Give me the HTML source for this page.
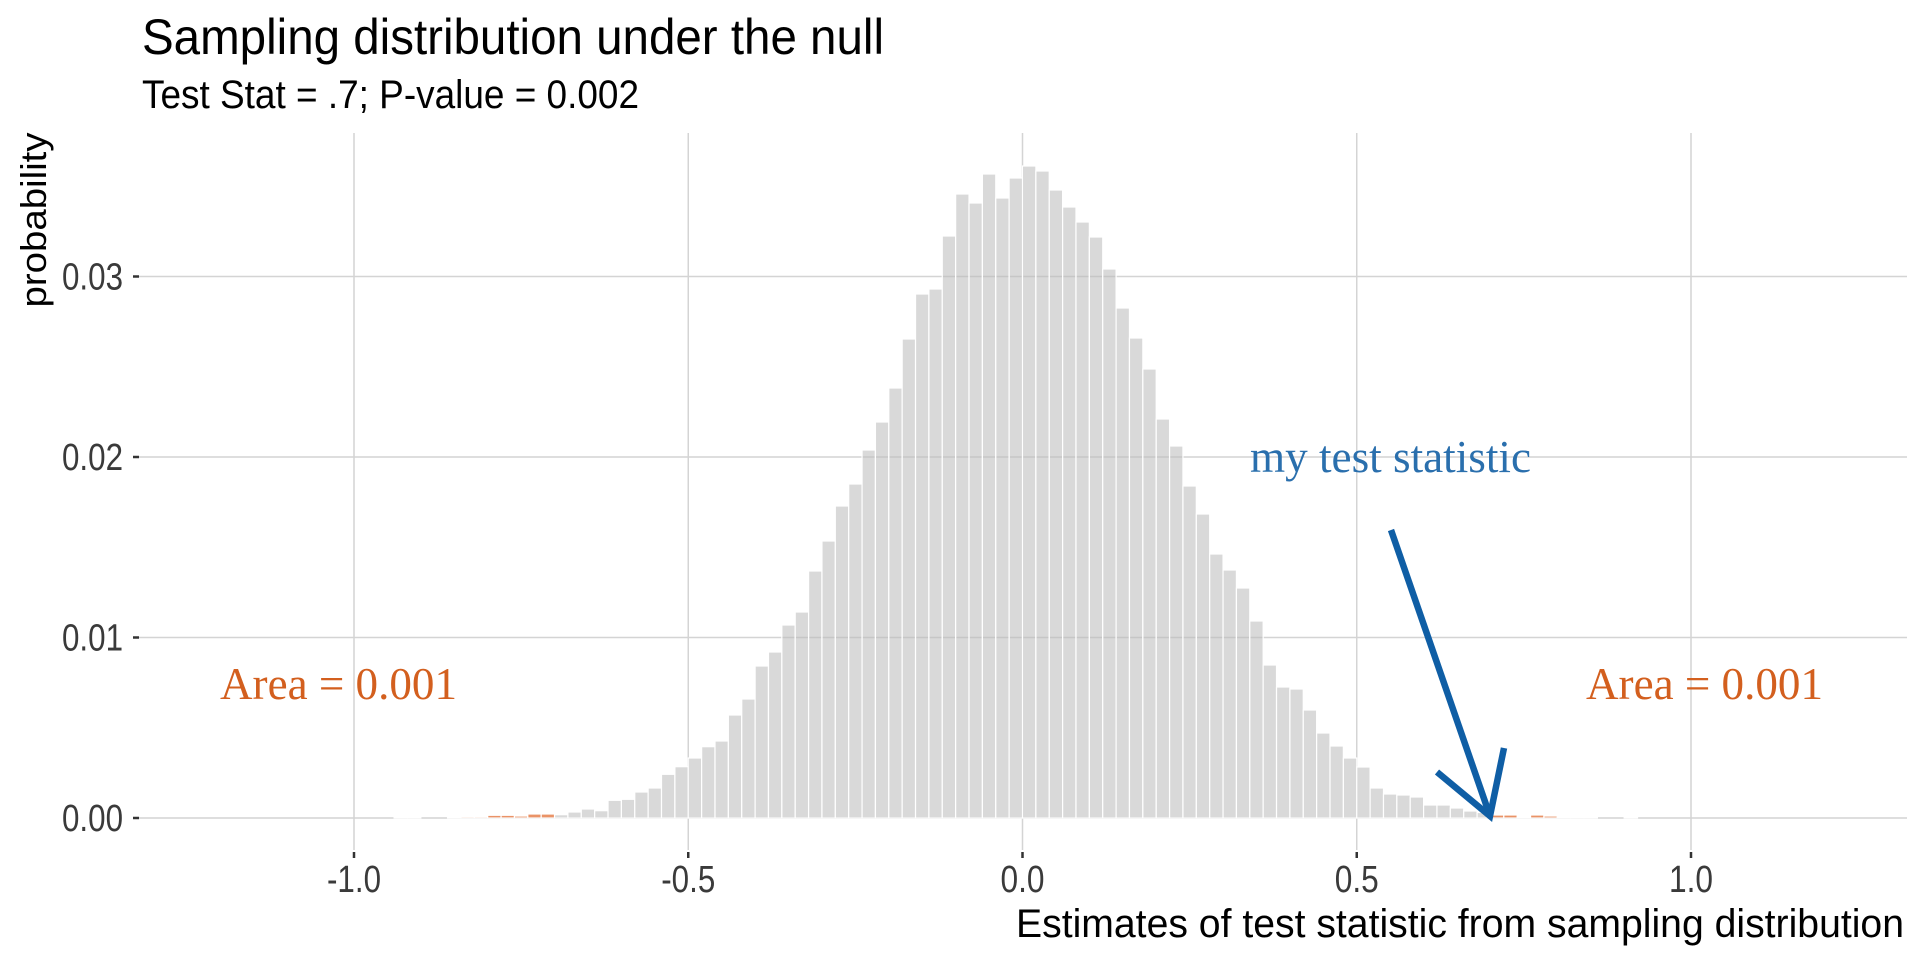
<!DOCTYPE html>
<html><head><meta charset="utf-8"><style>
html,body{margin:0;padding:0;background:#fff;}
svg{display:block;}
</style></head><body>
<svg id="c" width="1920" height="960" viewBox="0 0 1920 960" xmlns="http://www.w3.org/2000/svg">
<rect width="1920" height="960" fill="#fff"/>
<g stroke="#d4d4d4" stroke-width="1.5">
<line x1="138" y1="818" x2="1907" y2="818"/>
<line x1="138" y1="637.5" x2="1907" y2="637.5"/>
<line x1="138" y1="457" x2="1907" y2="457"/>
<line x1="138" y1="276.5" x2="1907" y2="276.5"/>
<line x1="354" y1="133" x2="354" y2="850"/>
<line x1="688.25" y1="133" x2="688.25" y2="850"/>
<line x1="1022.5" y1="133" x2="1022.5" y2="850"/>
<line x1="1356.75" y1="133" x2="1356.75" y2="850"/>
<line x1="1691" y1="133" x2="1691" y2="850"/>
</g>
<g id="bars"></g>
<g stroke="#333" stroke-width="2.5">
<line x1="133" y1="818" x2="139" y2="818"/>
<line x1="133" y1="637.5" x2="139" y2="637.5"/>
<line x1="133" y1="457" x2="139" y2="457"/>
<line x1="133" y1="276.5" x2="139" y2="276.5"/>
<line x1="354" y1="852" x2="354" y2="858"/>
<line x1="688.25" y1="852" x2="688.25" y2="858"/>
<line x1="1022.5" y1="852" x2="1022.5" y2="858"/>
<line x1="1356.75" y1="852" x2="1356.75" y2="858"/>
<line x1="1691" y1="852" x2="1691" y2="858"/>
</g>
<g font-family="Liberation Sans, sans-serif" font-size="38" fill="#3a3a3a">
<text x="123" y="831" text-anchor="end" textLength="61" lengthAdjust="spacingAndGlyphs">0.00</text>
<text x="123" y="650.5" text-anchor="end" textLength="61" lengthAdjust="spacingAndGlyphs">0.01</text>
<text x="123" y="470" text-anchor="end" textLength="61" lengthAdjust="spacingAndGlyphs">0.02</text>
<text x="123" y="289.5" text-anchor="end" textLength="61" lengthAdjust="spacingAndGlyphs">0.03</text>
<text x="354" y="892" text-anchor="middle" textLength="54" lengthAdjust="spacingAndGlyphs">-1.0</text>
<text x="688.25" y="892" text-anchor="middle" textLength="54" lengthAdjust="spacingAndGlyphs">-0.5</text>
<text x="1022.5" y="892" text-anchor="middle" textLength="44" lengthAdjust="spacingAndGlyphs">0.0</text>
<text x="1356.75" y="892" text-anchor="middle" textLength="44" lengthAdjust="spacingAndGlyphs">0.5</text>
<text x="1691" y="892" text-anchor="middle" textLength="44" lengthAdjust="spacingAndGlyphs">1.0</text>
</g>
<g font-family="Liberation Sans, sans-serif" fill="#000">
<text x="142" y="54" font-size="50" textLength="742" lengthAdjust="spacingAndGlyphs">Sampling distribution under the null</text>
<text x="142" y="108" font-size="40" textLength="497" lengthAdjust="spacingAndGlyphs">Test Stat = .7; P-value = 0.002</text>
<text x="1904" y="937" font-size="40" text-anchor="end" textLength="888" lengthAdjust="spacingAndGlyphs">Estimates of test statistic from sampling distribution</text>
<text transform="translate(46,220) rotate(-90)" font-size="36" text-anchor="middle" textLength="175" lengthAdjust="spacingAndGlyphs">probability</text>
</g>
<g font-family="Liberation Serif, serif" font-size="46">
<text x="338.5" y="699" text-anchor="middle" fill="#d35f1e" textLength="237" lengthAdjust="spacingAndGlyphs">Area = 0.001</text>
<text x="1704.5" y="699" text-anchor="middle" fill="#d35f1e" textLength="237" lengthAdjust="spacingAndGlyphs">Area = 0.001</text>
<text x="1390.5" y="472" text-anchor="middle" fill="#2a6fad" textLength="281" lengthAdjust="spacingAndGlyphs">my test statistic</text>
</g>
<g stroke="#0f5ea5" stroke-width="6.5" fill="none" stroke-linecap="butt" stroke-linejoin="miter">
<line x1="1391" y1="530" x2="1490" y2="816"/>
<polyline points="1437,772 1490,816 1504,748"/>
</g>
</svg>
<script>
(function(){
var data=[[-0.94,1],[-0.92,1],[-0.86,0.5],[-0.84,1.3],[-0.82,1.3],[-0.80,2.7],[-0.78,2.7],[-0.76,2],[-0.74,4],[-0.72,4],
[-0.70,3.3],[-0.68,6],[-0.66,9],[-0.64,7.3],[-0.62,17.7],[-0.60,18.7],[-0.58,26],[-0.56,30],[-0.54,43.7],[-0.52,51.3],[-0.50,60],[-0.48,71.3],[-0.46,77],[-0.44,103],[-0.42,119]];
var mid=[152,166,193,206,247,277,312,334,368,396,430,479,524,529,582,624,615,644,620,640,652,647,628,611,596,581,549,510,480,449,399,372,332,304,264,248,230,197,153,131,129,108,85,72,60,51,30,24,23,21,13,13,10,7,5.5];
for(var i=0;i<mid.length;i++){data.push([-0.40+0.02*i,mid[i]]);}
data=data.concat([[0.70,3],[0.72,3],[0.74,1],[0.76,3],[0.78,2],[0.80,0.7],[0.82,0.7],[0.84,0.5],[0.90,0.5]]);
var g=document.getElementById('bars'),ns='http://www.w3.org/2000/svg',w=668.5*0.02;
data.forEach(function(d){
var v=Math.round(d[0]*100)/100,h=d[1];
var x=1022.5+668.5*v;
var r=document.createElementNS(ns,'rect');
r.setAttribute('x',x);r.setAttribute('y',818-h);r.setAttribute('width',w);r.setAttribute('height',h);
var orange=(v<=-0.72||v>=0.70);
r.setAttribute('fill',orange?'#e26a2c':'#bdbdbd');
r.setAttribute('fill-opacity',orange?'0.72':'0.57');
r.setAttribute('stroke','#fff');r.setAttribute('stroke-width','1.2');
g.appendChild(r);
});
})();
</script>
</body></html>
